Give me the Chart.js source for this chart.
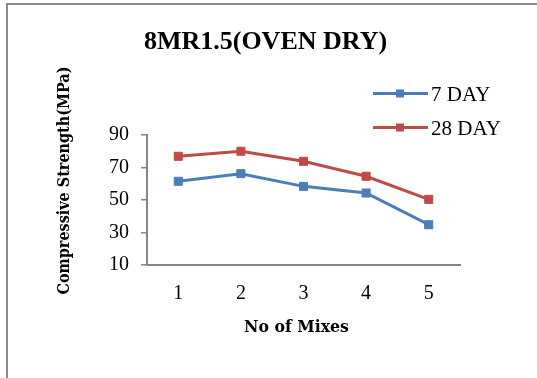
<!DOCTYPE html>
<html>
<head>
<meta charset="utf-8">
<script src="https://cdn.jsdelivr.net/npm/chart.js@4"></script>
<style>
  html, body { margin: 0; padding: 0; background: #fff; }
  #wrap { position: relative; width: 537px; height: 378px; }
</style>
</head>
<body>
<div id="wrap"><canvas id="chart"></canvas></div>
<script>
// Mix numbers and compressive strengths (MPa)
const mixes = ['1', '2', '3', '4', '5'];
const strength7Day = [61.5, 66.2, 58.4, 54.3, 34.8];
const strength28Day = [76.9, 80.0, 73.8, 64.6, 50.4];
const seriesNames = ['7 DAY', '28 DAY'];
const chartTitle = '8MR1.5(OVEN DRY)';
const xTitle = 'No of Mixes';
const yTitle = 'Compressive Strength(MPa)';
const yMin = 10, yMax = 90, yStep = 20;

const BLUE = '#4A7EBB';
const RED = '#BE4B48';
const AXIS = '#868686';
const SERIF = '"Liberation Serif", "Times New Roman", serif';
const LABEL_FONT = '"DejaVu Serif Condensed", "DejaVu Serif", serif';

// Frame, title, axis titles and legend
const decorations = {
  id: 'decorations',
  beforeDraw(chart) {
    const ctx = chart.ctx;
    ctx.save();
    ctx.strokeStyle = '#8c8c8c';
    ctx.lineWidth = 2;
    ctx.beginPath();
    ctx.moveTo(7, chart.height);
    ctx.lineTo(7, 4);
    ctx.lineTo(chart.width, 4);
    ctx.stroke();
    ctx.restore();
  },
  afterDraw(chart) {
    const ctx = chart.ctx;
    const a = chart.chartArea;
    ctx.save();
    ctx.fillStyle = '#000';

    ctx.font = 'bold 26px ' + SERIF;
    ctx.textAlign = 'center';
    ctx.textBaseline = 'alphabetic';
    ctx.fillText(chartTitle, 265.5, 49);

    ctx.textBaseline = 'middle';
    ctx.font = 'bold 17.5px ' + LABEL_FONT;
    ctx.fillText(xTitle, 296.5, a.bottom + 62);
    ctx.font = 'bold 16px ' + LABEL_FONT;
    ctx.save();
    ctx.translate(65, 180.5);
    ctx.rotate(-Math.PI / 2);
    ctx.fillText(yTitle, 0, 0);
    ctx.restore();

    // legend
    ctx.font = '21px ' + SERIF;
    ctx.textAlign = 'left';
    ctx.textBaseline = 'alphabetic';
    chart.data.datasets.forEach((ds, i) => {
      const y = 93.5 + i * 34;
      ctx.strokeStyle = ds.borderColor;
      ctx.lineWidth = ds.borderWidth;
      ctx.beginPath();
      ctx.moveTo(373, y);
      ctx.lineTo(428, y);
      ctx.stroke();
      ctx.fillStyle = ds.borderColor;
      ctx.fillRect(396, y - 4, 8, 8);
      ctx.fillStyle = '#000';
      ctx.fillText(ds.label, 431, y + 7);
    });
    ctx.restore();
  }
};

const makeSeries = (label, data, color) => ({
  label,
  data,
  borderColor: color,
  backgroundColor: color,
  borderWidth: 3,
  pointStyle: 'rect',
  pointRadius: 5.7,
  pointBorderWidth: 1,
  pointBackgroundColor: color,
  pointBorderColor: color,
  tension: 0,
  fill: false
});

new Chart(document.getElementById('chart'), {
  type: 'line',
  data: {
    labels: mixes,
    datasets: [
      makeSeries(seriesNames[0], strength7Day, BLUE),
      makeSeries(seriesNames[1], strength28Day, RED)
    ]
  },
  options: {
    responsive: true,
    maintainAspectRatio: false,
    animation: false,
    layout: { padding: { top: 135, right: 77, left: 0, bottom: 0 } },
    plugins: {
      legend: { display: false },
      title: { display: false },
      tooltip: { enabled: false }
    },
    scales: {
      x: {
        offset: true,
        grid: { display: true, drawOnChartArea: false, drawTicks: false },
        border: { display: true, color: AXIS, width: 2 },
        ticks: { color: '#000', font: { family: SERIF, size: 20 }, padding: 17 },
        afterFit(s) { s.height = 113; }
      },
      y: {
        min: yMin,
        max: yMax,
        grid: { drawOnChartArea: false, drawTicks: true, tickLength: 6, color: AXIS, lineWidth: 1.5 },
        border: { display: true, color: AXIS, width: 2 },
        ticks: { stepSize: yStep, color: '#000', font: { family: SERIF, size: 20 }, padding: 12 },
        afterFit(s) { s.width = 147; }
      }
    }
  },
  plugins: [decorations]
});
</script>
</body>
</html>
